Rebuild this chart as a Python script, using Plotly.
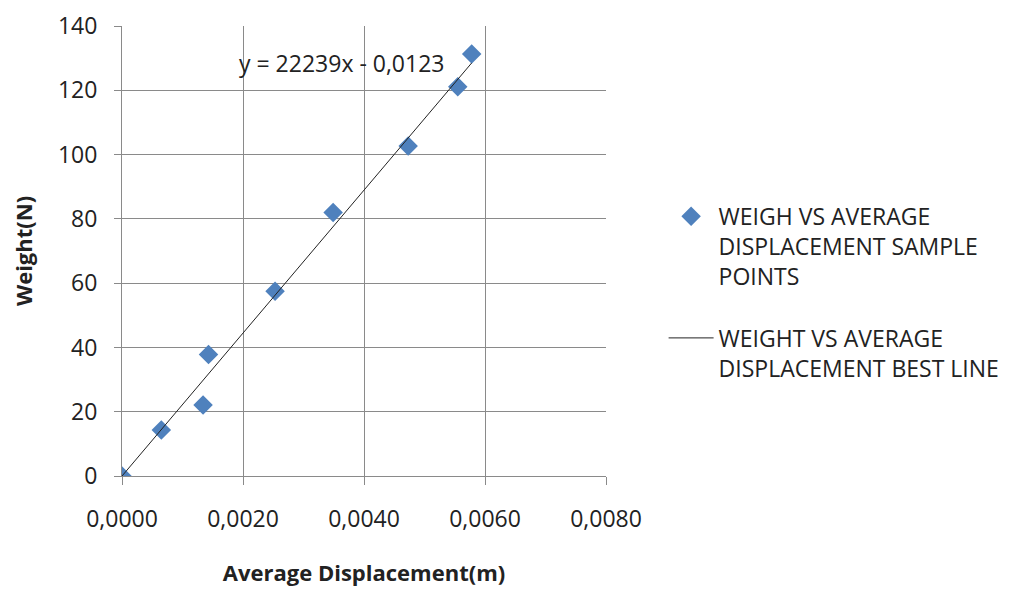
import plotly.graph_objects as go

# Sample points
disp_m = [0.0, 0.00065, 0.00134, 0.00143, 0.00253, 0.00349, 0.00473, 0.00555, 0.00578]
weight_n = [0.0, 14.3, 22.1, 37.8, 57.5, 82.0, 102.7, 121.1, 131.3]

# Best-fit line endpoints (y = 22239x - 0.0123)
fit_x = [0.0, 0.00578]
fit_y = [-0.0123, 128.53]

x_ticks = [0.0, 0.002, 0.004, 0.006, 0.008]
y_ticks = [0, 20, 40, 60, 80, 100, 120, 140]

FONT = "Open Sans"
GRID = "#8a8a8a"
TXT = "#222222"

fig = go.Figure()
fig.add_trace(go.Scatter(
    x=disp_m, y=weight_n, mode="markers",
    name="WEIGH VS AVERAGE<br>DISPLACEMENT SAMPLE<br>POINTS",
    marker=dict(symbol="diamond", size=15, color="#4F81BD"),
    legendgroup="a",
))
fig.add_trace(go.Scatter(
    x=fit_x, y=fit_y, mode="lines",
    name="WEIGHT VS AVERAGE<br>DISPLACEMENT BEST LINE",
    line=dict(color=TXT, width=1),
    legendgroup="b",
))

fig.add_annotation(
    x=0.00362, y=128.6, xref="x", yref="y",
    text="y = 22239x - 0,0123", showarrow=False,
    font=dict(family=FONT, size=23, color=TXT),
    xanchor="center", yanchor="middle",
)

fig.update_layout(
    width=1014, height=589,
    margin=dict(l=114, r=416, t=18, b=121, autoexpand=False),
    paper_bgcolor="white", plot_bgcolor="white",
    separators=",.",
    font=dict(family=FONT, color=TXT),
    legend=dict(
        x=1.119, y=0.625, xanchor="left", yanchor="top",
        font=dict(family=FONT, size=23, color=TXT),
        tracegroupgap=29, bgcolor="rgba(0,0,0,0)",
        valign="top", itemwidth=45, traceorder="grouped",
    ),
    xaxis=dict(
        range=[0, 0.008], tickvals=x_ticks, tickformat=".4f",
        showgrid=True, gridcolor=GRID, gridwidth=1,
        showline=True, linecolor=GRID, linewidth=1,
        ticks="outside", ticklen=8, tickcolor=GRID,
        ticklabelstandoff=14, ticklabeloverflow="allow",
        tickfont=dict(family=FONT, size=23, color=TXT),
        zeroline=False, automargin=False,
        title=dict(text="<b>Average Displacement(m)</b>",
                   font=dict(family=FONT, size=22, color=TXT), standoff=33),
    ),
    yaxis=dict(
        range=[0, 140.02], tickvals=y_ticks,
        showgrid=True, gridcolor=GRID, gridwidth=1,
        showline=True, linecolor=GRID, linewidth=1,
        ticks="outside", ticklen=7, tickcolor=GRID,
        ticklabelstandoff=12, ticklabeloverflow="allow",
        tickfont=dict(family=FONT, size=23, color=TXT),
        zeroline=False, automargin=False,
        title=dict(text="<b>Weight(N)</b>",
                   font=dict(family=FONT, size=22, color=TXT), standoff=26),
    ),
)

fig.write_html("out.html")
